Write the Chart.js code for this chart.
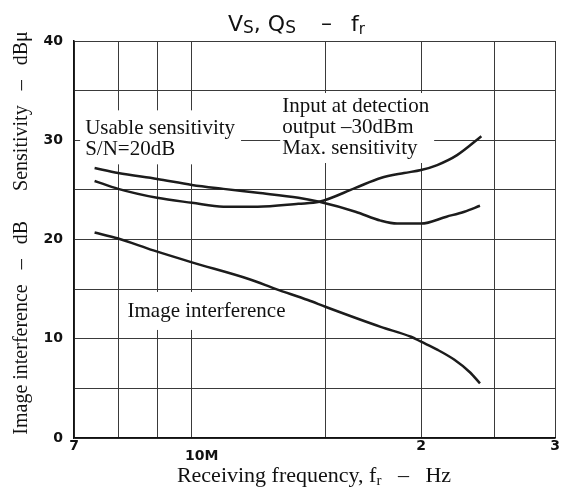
<!DOCTYPE html>
<html>
<head>
<meta charset="utf-8">
<script src="https://cdn.jsdelivr.net/npm/chart.js@4.4.0/dist/chart.umd.min.js"></script>
<style>
  html, body { margin: 0; padding: 0; background: #fff; }
  #wrap { width: 563px; height: 491px; }
</style>
</head>
<body>
<div id="wrap"><canvas id="chart" width="563" height="491"></canvas></div>
<script>
// Receiving frequency in MHz, values in dB / dBu
const usableFreq = [7.45, 8, 9, 10, 11, 12.2, 13.8, 14.7, 16.4, 17.7, 18.6, 20, 21.6, 22.8, 23.9];
const usableVals = [27.2, 26.7, 26.1, 25.5, 25.1, 24.7, 24.2, 23.8, 22.8, 21.9, 21.6, 21.6, 22.3, 22.8, 23.4];

const maxSensFreq = [7.45, 8, 9, 10, 11, 12.2, 13.8, 14.7, 16.4, 17.7, 19, 20, 21, 22.3, 24];
const maxSensVals = [25.9, 25.1, 24.2, 23.7, 23.3, 23.3, 23.6, 23.8, 25.2, 26.2, 26.7, 27.0, 27.5, 28.5, 30.4];

const imageFreq = [7.45, 8, 8.9, 10, 11.9, 12.9, 14.2, 15, 17.7, 19.4, 20, 21, 22.1, 23.2, 23.9];
const imageVals = [20.7, 20.1, 18.9, 17.7, 16.0, 15.0, 13.9, 13.2, 11.2, 10.2, 9.7, 8.9, 7.9, 6.6, 5.5];

const xTicks = [7, 8, 9, 10, 15, 20, 25, 30];
const xTickLabels = { 7: '7', 10: ['', '    10M'], 20: '2', 30: '3' };
const yTickLabels = { 0: '0', 10: '10', 20: '20', 30: '30', 40: '40' };

const toPoints = (xs, ys) => xs.map((x, i) => ({ x: x, y: ys[i] }));

const lineStyle = {
  showLine: true,
  borderColor: '#1c1c1c',
  borderWidth: 2.5,
  pointRadius: 0,
  cubicInterpolationMode: 'monotone',
  fill: false
};

// white-backed labels inside the plot, anchored to axis values
const notes = [
  { f: 7.24, v: 31.2, lines: ['Usable sensitivity', 'S/N=20dB'], padL: 5, padR: 6, padT: 18, padB: 15 },
  { f: 13.14, v: 33.45, lines: ['Input at detection', 'output \u201330dBm', 'Max. sensitivity'], padL: 2, padR: 5, padT: 13, padB: 15 },
  { f: 8.23, v: 12.7, lines: ['Image interference'], padL: 6, padR: 4, padT: 20, padB: 18 }
];

const textPlugin = {
  id: 'texts',
  beforeDatasetsDraw(chart) {
    const { ctx, scales } = chart;
    ctx.save();
    ctx.font = '21px "Liberation Serif"';
    ctx.textBaseline = 'middle';
    ctx.textAlign = 'left';
    notes.forEach(n => {
      const x = scales.x.getPixelForValue(n.f);
      const y = scales.y.getPixelForValue(n.v);
      const lh = 21;
      const w = Math.max(...n.lines.map(t => ctx.measureText(t).width));
      ctx.fillStyle = '#fff';
      ctx.fillRect(x - n.padL, y - n.padT, w + n.padL + n.padR, lh * (n.lines.length - 1) + n.padT + n.padB);
      ctx.fillStyle = '#111';
      n.lines.forEach((t, i) => ctx.fillText(t, x, y + i * lh));
    });
    ctx.restore();
  },
  afterDraw(chart) {
    const { ctx } = chart;
    ctx.save();
    ctx.fillStyle = '#111';
    ctx.textBaseline = 'alphabetic';
    ctx.textAlign = 'left';

    // title: V_S, Q_S  -  f_r
    const big = '22px "DejaVu Sans"';
    const mid = '17px "DejaVu Sans"';
    const sml = '15px "DejaVu Sans"';
    let x = 228;
    const base = 31;
    const put = (t, font, dy) => {
      ctx.font = font;
      ctx.fillText(t, x, base + dy);
      x += ctx.measureText(t).width;
    };
    put('V', big, 0); put('S', mid, 2); put(', ', big, 0);
    put('Q', big, 0); put('S', mid, 2);
    x += 25; put('\u2013', big, -1); x += 19;
    put('f', big, 0); put('r', sml, 3);

    // x axis title
    const t1 = 'Receiving frequency, f';
    const t2 = '   \u2013   Hz';
    ctx.font = '22px "Liberation Serif"';
    const w1 = ctx.measureText(t1).width;
    const w2 = ctx.measureText(t2).width;
    ctx.font = '15px "Liberation Serif"';
    const wr = ctx.measureText('r').width;
    const xs = 314 - (w1 + wr + w2) / 2;
    ctx.font = '22px "Liberation Serif"';
    ctx.fillText(t1, xs, 482);
    ctx.font = '15px "Liberation Serif"';
    ctx.fillText('r', xs + w1, 485);
    ctx.font = '22px "Liberation Serif"';
    ctx.fillText(t2, xs + w1 + wr, 482);

    // y axis title (rotated)
    ctx.translate(27, 233);
    ctx.rotate(-Math.PI / 2);
    ctx.textAlign = 'center';
    ctx.font = '20px "Liberation Serif"';
    ctx.fillText('Image interference   \u2013   dB      Sensitivity   \u2013   dB\u03bc', 0, 0);
    ctx.restore();
  }
};

window.onload = () => {
  const ctx = document.getElementById('chart').getContext('2d');
  new Chart(ctx, {
    type: 'scatter',
    data: {
      datasets: [
        { label: 'Usable sensitivity S/N=20dB', data: toPoints(usableFreq, usableVals), ...lineStyle },
        { label: 'Max. sensitivity', data: toPoints(maxSensFreq, maxSensVals), ...lineStyle },
        { label: 'Image interference', data: toPoints(imageFreq, imageVals), ...lineStyle }
      ]
    },
    options: {
      responsive: false,
      animation: false,
      layout: { padding: { top: 41, right: 4, left: 0, bottom: 0 } },
      plugins: {
        legend: { display: false },
        tooltip: { enabled: false },
        title: { display: false }
      },
      scales: {
        x: {
          type: 'logarithmic',
          min: 7,
          max: 30,
          afterBuildTicks: s => { s.ticks = xTicks.map(v => ({ value: v })); },
          afterFit: s => { s.height = 53; },
          grid: { color: '#3a3a3a', lineWidth: 1, drawTicks: false },
          border: { color: '#111', width: 1.5 },
          ticks: {
            autoSkip: false,
            maxRotation: 0,
            padding: 3,
            color: '#111',
            font: { family: 'DejaVu Sans', size: 14, weight: 'bold', lineHeight: 0.75 },
            callback: v => xTickLabels[v] || ''
          }
        },
        y: {
          min: 0,
          max: 40,
          afterFit: s => { s.width = 74; },
          grid: { color: '#3a3a3a', lineWidth: 1, drawTicks: false },
          border: { color: '#111', width: 1.5 },
          ticks: {
            stepSize: 5,
            padding: 11,
            color: '#111',
            font: { family: 'DejaVu Sans', size: 14, weight: 'bold' },
            callback: v => yTickLabels[v] || ''
          }
        }
      }
    },
    plugins: [textPlugin]
  });
};
</script>
</body>
</html>
